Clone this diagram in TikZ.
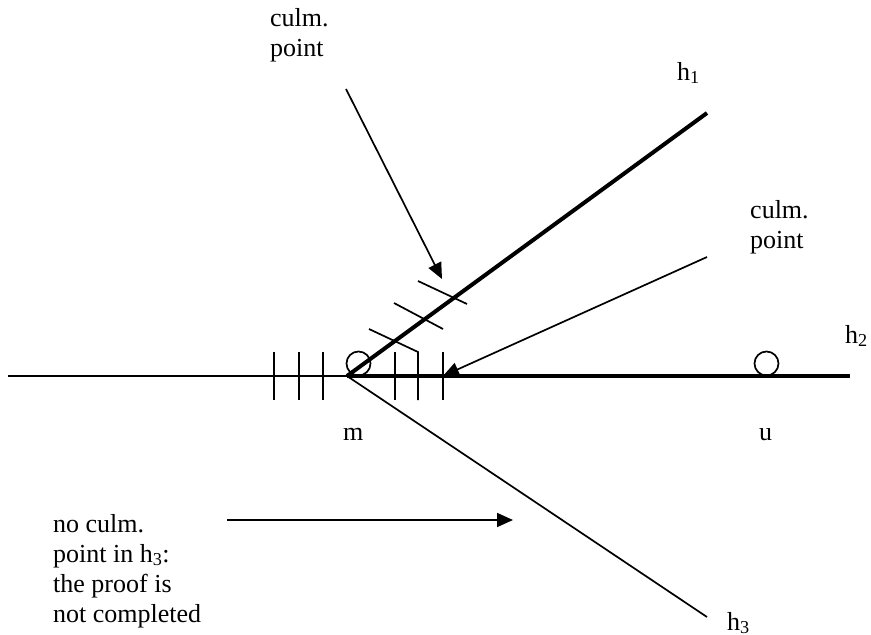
\documentclass[tikz,border=0pt]{standalone}
\usepackage{fontspec}
\setmainfont{Liberation Serif}
\usetikzlibrary{arrows.meta}
\begin{document}
\begin{tikzpicture}[x=1pt,y=-1pt,
  thinline/.style={line width=1.7pt},
  thickline/.style={line width=4pt},
  tickline/.style={line width=1.7pt},
  pointer/.style={line width=1.7pt,-{Triangle[length=16pt,width=14pt]}},
  lbl/.style={inner sep=0pt,anchor=base west,font=\fontsize{26}{30}\selectfont},
  txt/.style={inner sep=0pt,anchor=base west,align=left,font=\fontsize{26}{30}\selectfont},
  mark circle/.style={circle,draw,line width=1.7pt,minimum size=24pt,inner sep=0pt}]
\useasboundingbox (0,0) rectangle (871,635);
% main points
\coordinate (m) at (347,376);
\coordinate (leftend) at (8,376);
\coordinate (h2end) at (850,376);
\coordinate (h1end) at (707,113);
\coordinate (h3end) at (707,617);
% half-lines
\draw[thinline] (leftend) -- (m);
\draw[thickline,line cap=butt] (m) -- (h2end);
\draw[thickline] (m) -- (h1end);
\draw[thinline] (m) -- (h3end);
% circles
\node[mark circle] (cm) at (358.5,363.5) {};
\node[mark circle] (cu) at (766.5,363.5) {};
% vertical ticks
\foreach \x/\n in {274/a,299/b,323/c,395/d,443/f}{
  \coordinate (t\n top) at (\x,352);
  \coordinate (t\n bot) at (\x,400);
  \draw[tickline] (t\n top) -- (t\n bot);
}
\coordinate (tetop) at (418,352);
\coordinate (tebot) at (418,400);
\coordinate (s1a) at (369,329);
\draw[tickline] (s1a) -- (tetop) -- (tebot);
% slanted ticks on h1
\coordinate (s2a) at (394,303);
\coordinate (s2b) at (443,329);
\coordinate (s3a) at (418,281);
\coordinate (s3b) at (467,304);
\draw[tickline] (s2a) -- (s2b);
\draw[tickline] (s3a) -- (s3b);
% labels
\node[lbl] (lh1) at (677,80) {h\textsubscript{1}};
\node[lbl] (lh2) at (845,343) {h\textsubscript{2}};
\node[lbl] (lh3) at (727,630) {h\textsubscript{3}};
\node[lbl] (lm) at (343,440) {m};
\node[lbl] (lu) at (759,440) {u};
% annotations (base = baseline of last line)
\node[txt] (ctop) at (270,56) {culm.\\point};
\node[txt] (cright) at (750,248) {culm.\\point};
\node[txt] (nocp) at (53,622) {no culm.\\point in h\textsubscript{3}:\\the proof is\\not completed};
% pointers
\coordinate (p1s) at (346,89);
\coordinate (p1e) at (442,279);
\coordinate (p2s) at (707,257);
\coordinate (p2e) at (443,376);
\coordinate (p3s) at (227,520);
\coordinate (p3e) at (513,520);
\draw[pointer] (p1s) -- (p1e);
\draw[pointer] (p2s) -- (p2e);
\draw[pointer] (p3s) -- (p3e);
\end{tikzpicture}
\end{document}
